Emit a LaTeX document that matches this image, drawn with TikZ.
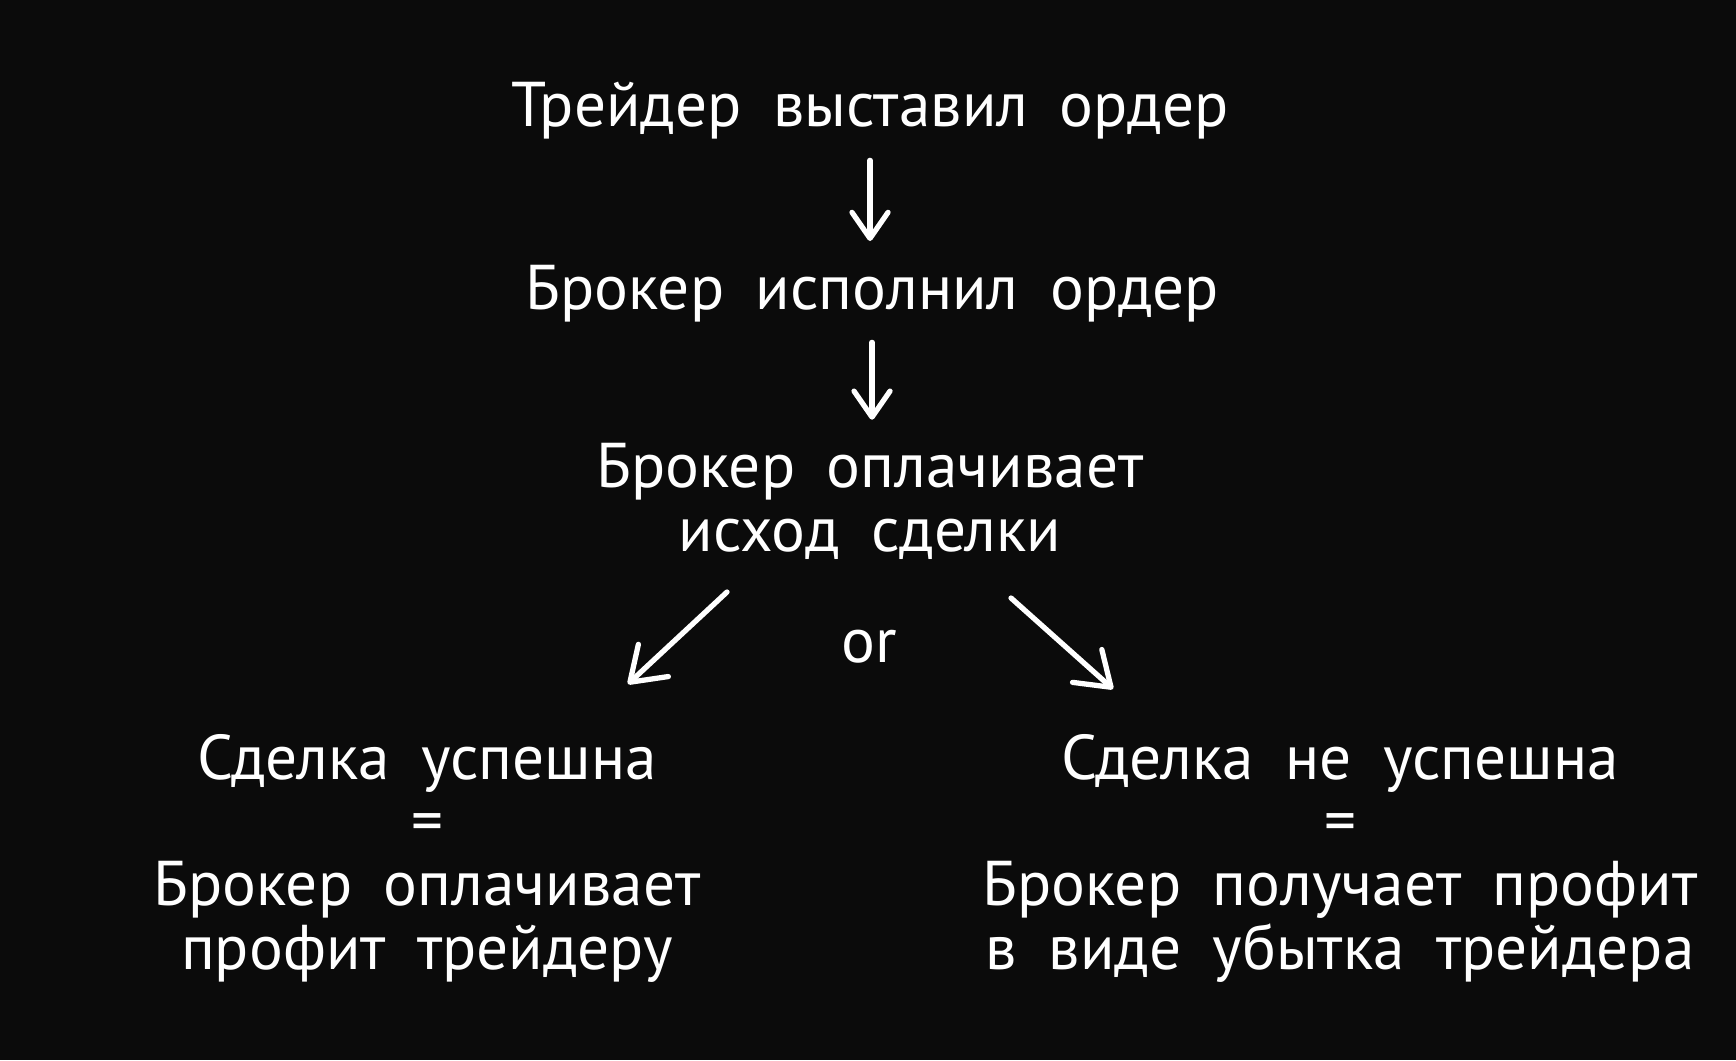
\documentclass[tikz,border=0pt]{standalone}
\usepackage{fontspec}
\setmainfont{PT Sans}
\usetikzlibrary{arrows.meta}

\definecolor{bgdark}{HTML}{0B0B0B}
\newcommand\widesp{\spaceskip=.5em\relax}

\tikzset{
  lbl/.style={text=white, inner sep=0pt, align=center, anchor=base,
    font=\fontsize{18}{18}\selectfont, execute at begin node=\widesp},
  arr/.style={white, line width=1.5pt, line cap=round,
    -{Straight Barb[round,length=2.6mm,width=3.6mm]}},
  darr/.style={arr, -{Straight Barb[round,length=3.2mm,width=4.4mm]}}
}

\begin{document}
\begin{tikzpicture}
        \fill[bgdark] (0,0) rectangle (17.36,-10.60);
        \useasboundingbox (0,0) rectangle (17.36,-10.60);

        % base of a multi-line node = baseline of its last line
        \node[lbl] (trader) at (8.70,-1.27) {Трейдер выставил ордер};
        \node[lbl] (exec) at (8.72,-3.09) {Брокер исполнил ордер};
        \node[lbl] (outcome) at (8.70,-5.51) {Брокер оплачивает\\исход сделки};
        \node[lbl] (ornode) at (8.69,-6.62) {or};

        \node[lbl] (win) at (4.27,-9.69) {Сделка успешна\\=\\Брокер оплачивает\\профит трейдеру};
        \node[lbl] (loss) at (13.40,-9.69) {Сделка не успешна\\=\\Брокер получает профит\\в виде убытка трейдера};

        \draw[arr, shorten <=2mm, shorten >=2.3mm] (trader.south) -- (trader.south |- exec.north);
        \draw[arr, shorten <=2mm, shorten >=2.3mm] (exec.south) -- (exec.south |- outcome.north);

        \draw[darr] ([shift={(-1.43,-0.41)}]outcome.base) -- ([shift={(2.01,2.85)}]win.base);
        \draw[darr] ([shift={(1.41,-0.47)}]outcome.base) -- ([shift={(-2.27,2.80)}]loss.base);
    \end{tikzpicture}
\end{document}
